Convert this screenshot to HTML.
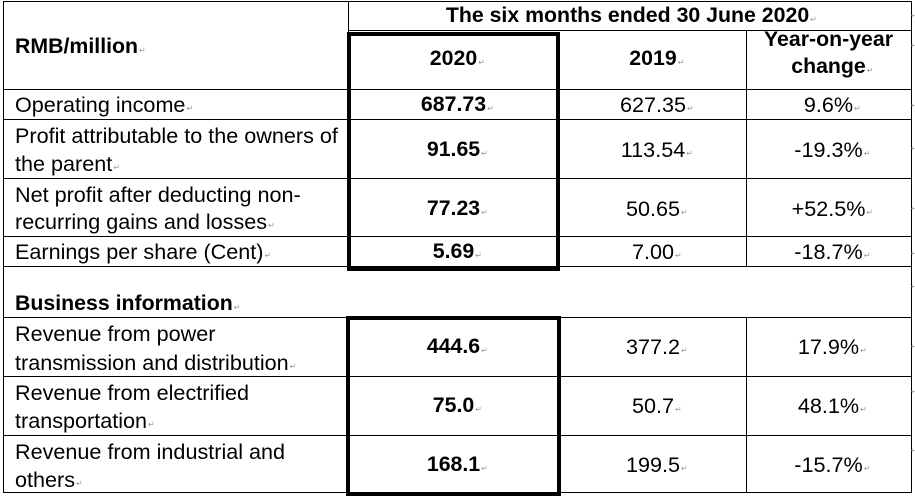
<!DOCTYPE html>
<html>
<head>
<meta charset="utf-8">
<style>
  html,body{margin:0;padding:0;background:#fff;}
  body{width:915px;height:502px;position:relative;overflow:hidden;font-family:"Liberation Sans",Arial,sans-serif;font-size:21.6px;color:#000;}
  .h{position:absolute;height:1px;background:#000;}
  .v{position:absolute;width:1px;background:#000;}
  .box{position:absolute;border:4px solid #000;box-sizing:border-box;}
  .t{position:absolute;line-height:21px;white-space:nowrap;}
  .c{position:absolute;line-height:21px;white-space:nowrap;text-align:center;}
  .b{font-weight:bold;font-size:21.3px;}
  .w{position:relative;display:inline-block;}
  .w i{position:absolute;left:100%;bottom:2px;font-style:normal;font-weight:normal;font-size:8px;line-height:8px;color:#999;font-family:"DejaVu Sans",sans-serif;padding-left:1px;}
  .e{position:absolute;left:911px;font-size:8px;line-height:8px;color:#aaa;font-family:"DejaVu Sans",sans-serif;}
  .c1{left:351px;width:205px;}
  .c2{left:560px;width:186px;}
  .c3{left:746px;width:165px;}
</style>
</head>
<body>
<!-- horizontal lines -->
<div class="h" style="top:1px;left:3px;width:909px;"></div>
<div class="h" style="top:30px;left:348px;width:564px;"></div>
<div class="h" style="top:89px;left:3px;width:909px;"></div>
<div class="h" style="top:119px;left:3px;width:909px;"></div>
<div class="h" style="top:178px;left:3px;width:909px;"></div>
<div class="h" style="top:236px;left:3px;width:909px;"></div>
<div class="h" style="top:266px;left:3px;width:909px;"></div>
<div class="h" style="top:317px;left:3px;width:909px;"></div>
<div class="h" style="top:376px;left:3px;width:909px;"></div>
<div class="h" style="top:435px;left:3px;width:909px;"></div>
<div class="h" style="top:492px;left:3px;width:909px;"></div>
<!-- vertical lines -->
<div class="v" style="left:3px;top:1px;height:492px;"></div>
<div class="v" style="left:348px;top:1px;height:266px;"></div>
<div class="v" style="left:348px;top:317px;height:176px;"></div>
<div class="v" style="left:746px;top:30px;height:237px;"></div>
<div class="v" style="left:746px;top:317px;height:176px;"></div>
<div class="v" style="left:911px;top:1px;height:492px;"></div>
<!-- thick boxes -->
<div class="box" style="left:347px;top:32px;width:213px;height:239px;"></div>
<div class="box" style="left:346px;top:316px;width:215px;height:180px;"></div>

<!-- header -->
<div class="c b" style="left:346px;width:563px;top:5px;"><span class="w">The six months ended 30 June 2020<i>↵</i></span></div>
<div class="t b" style="left:15px;top:36px;"><span class="w">RMB/million<i>↵</i></span></div>
<div class="c b c1" style="top:48px;"><span class="w">2020<i>↵</i></span></div>
<div class="c b c2" style="top:48px;"><span class="w">2019<i>↵</i></span></div>
<div class="c b c3" style="top:29px;"><span class="w">Year-on-year</span></div>
<div class="c b c3" style="top:56px;"><span class="w">change<i>↵</i></span></div>

<!-- row 1 -->
<div class="t" style="left:15px;top:94px;"><span class="w">Operating income<i>↵</i></span></div>
<div class="c b c1" style="top:94px;"><span class="w">687.73<i>↵</i></span></div>
<div class="c c2" style="top:94px;"><span class="w">627.35<i>↵</i></span></div>
<div class="c c3" style="top:94px;"><span class="w">9.6%<i>↵</i></span></div>

<!-- row 2 -->
<div class="t" style="left:15px;top:125px;">Profit attributable to the owners of</div>
<div class="t" style="left:15px;top:153px;"><span class="w">the parent<i>↵</i></span></div>
<div class="c b c1" style="top:139px;"><span class="w">91.65<i>↵</i></span></div>
<div class="c c2" style="top:139px;"><span class="w">113.54<i>↵</i></span></div>
<div class="c c3" style="top:139px;"><span class="w">-19.3%<i>↵</i></span></div>

<!-- row 3 -->
<div class="t" style="left:15px;top:184px;">Net profit after deducting non-</div>
<div class="t" style="left:15px;top:211px;"><span class="w">recurring gains and losses<i>↵</i></span></div>
<div class="c b c1" style="top:198px;"><span class="w">77.23<i>↵</i></span></div>
<div class="c c2" style="top:198px;"><span class="w">50.65<i>↵</i></span></div>
<div class="c c3" style="top:198px;"><span class="w">+52.5%<i>↵</i></span></div>

<!-- row 4 -->
<div class="t" style="left:15px;top:241px;"><span class="w">Earnings per share (Cent)<i>↵</i></span></div>
<div class="c b c1" style="top:241px;"><span class="w">5.69<i>↵</i></span></div>
<div class="c c2" style="top:241px;"><span class="w">7.00<i>↵</i></span></div>
<div class="c c3" style="top:241px;"><span class="w">-18.7%<i>↵</i></span></div>

<!-- business information -->
<div class="t b" style="left:15px;top:293px;"><span class="w">Business information<i>↵</i></span></div>

<!-- row 5 -->
<div class="t" style="left:15px;top:323px;">Revenue from power</div>
<div class="t" style="left:15px;top:352px;"><span class="w">transmission and distribution<i>↵</i></span></div>
<div class="c b c1" style="top:336px;"><span class="w">444.6<i>↵</i></span></div>
<div class="c c2" style="top:336px;"><span class="w">377.2<i>↵</i></span></div>
<div class="c c3" style="top:336px;"><span class="w">17.9%<i>↵</i></span></div>

<!-- row 6 -->
<div class="t" style="left:15px;top:382px;">Revenue from electrified</div>
<div class="t" style="left:15px;top:410px;"><span class="w">transportation<i>↵</i></span></div>
<div class="c b c1" style="top:395px;"><span class="w">75.0<i>↵</i></span></div>
<div class="c c2" style="top:395px;"><span class="w">50.7<i>↵</i></span></div>
<div class="c c3" style="top:395px;"><span class="w">48.1%<i>↵</i></span></div>

<!-- row 7 -->
<div class="t" style="left:15px;top:441px;">Revenue from industrial and</div>
<div class="t" style="left:15px;top:469px;"><span class="w">others<i>↵</i></span></div>
<div class="c b c1" style="top:454px;"><span class="w">168.1<i>↵</i></span></div>
<div class="c c2" style="top:454px;"><span class="w">199.5<i>↵</i></span></div>
<div class="c c3" style="top:454px;"><span class="w">-15.7%<i>↵</i></span></div>

<!-- end-of-row marks -->
<div class="e" style="top:12px;">↵</div>
<div class="e" style="top:42px;">↵</div>
<div class="e" style="top:102px;">↵</div>
<div class="e" style="top:145px;">↵</div>
<div class="e" style="top:205px;">↵</div>
<div class="e" style="top:250px;">↵</div>
<div class="e" style="top:283px;">↵</div>
<div class="e" style="top:343px;">↵</div>
<div class="e" style="top:388px;">↵</div>
<div class="e" style="top:447px;">↵</div>
</body>
</html>
